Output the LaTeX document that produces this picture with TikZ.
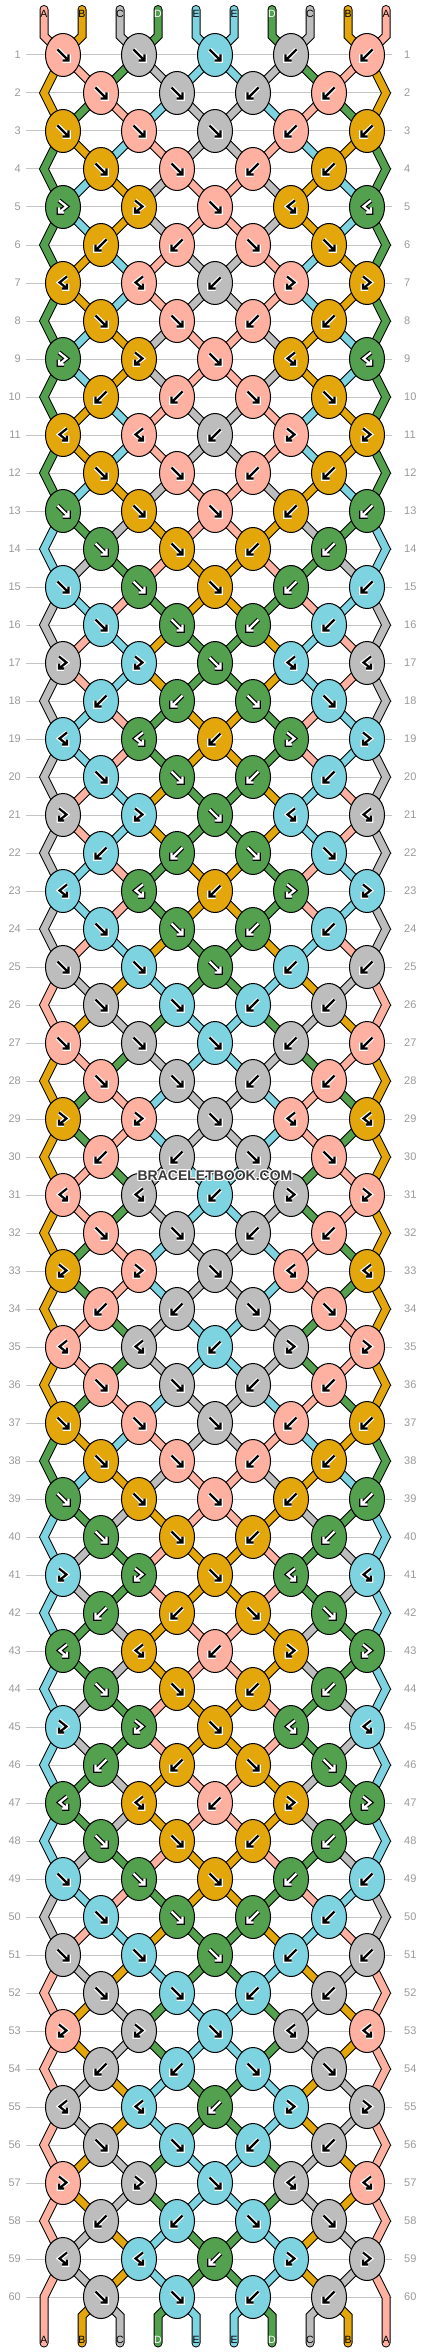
\documentclass[tikz,border=0pt]{standalone}
\usepackage{fontspec}
\setmainfont{Liberation Sans}
\usetikzlibrary{shapes.geometric}
\pgfdeclarelayer{rowlayer}
\pgfdeclarelayer{strlayer}
\pgfsetlayers{rowlayer,strlayer,main}
\definecolor{strA}{HTML}{FFB1A1}
\definecolor{strB}{HTML}{E3A60B}
\definecolor{strC}{HTML}{BDBDBD}
\definecolor{strD}{HTML}{53A04F}
\definecolor{strE}{HTML}{7DD4E0}
\definecolor{rowline}{HTML}{C4C4C4}
\definecolor{rowtext}{HTML}{9A9A9A}
\definecolor{wmtext}{HTML}{3A3A3A}
\tikzset{
 knot/.style={ellipse, draw=black, line width=1pt, minimum width=35pt, minimum height=43pt, inner sep=0pt},
 strb/.style={line width=9pt, draw=black, line cap=round, line join=miter},
 stri/.style={line width=7pt, line cap=round, line join=miter},
 rowln/.style={draw=rowline, line width=1pt},
 rowlbl/.style={text=rowtext, font=\fontsize{11}{13}\selectfont, inner sep=0pt},
 strlbl/.style={font=\fontsize{10.5}{12}\selectfont, inner sep=0pt},
 glyphsty/.style={line cap=butt, line join=miter, miter limit=10},
 wmark/.style={font=\fontsize{14}{16}\selectfont\bfseries, inner sep=0pt},
}
\newcommand\conn[2]{\draw[strb] #2; \draw[stri, draw=str#1] #2;}
\newcommand\glyphF[1]{\draw[glyphsty,#1] (-5.5,-5.5) -- (5.5,5.5) (5.5,-0.5) -- (5.5,5.5) -- (-0.5,5.5);}
\newcommand\glyphB[1]{\draw[glyphsty,#1] (5.5,-5.5) -- (-5.5,5.5) (-5.5,-0.5) -- (-5.5,5.5) -- (0.5,5.5);}
\newcommand\glyphP[1]{\draw[glyphsty,#1] (-4,-6.5) -- (3.5,-0.5) -- (-4,5.5) (-4,0.5) -- (-4,5.5) -- (1,5.5);}
\newcommand\glyphQ[1]{\draw[glyphsty,#1] (4,-6.5) -- (-3.5,-0.5) -- (4,5.5) (4,0.5) -- (4,5.5) -- (-1,5.5);}
\newcommand\glyph[4]{%
  \if D#4\relax \def\gfg{white}\def\gbg{black}\else \def\gfg{black}\def\gbg{white}\fi
  \begin{scope}[shift={(#2,#3)}]
    \csname glyph#1\endcsname{line width=4.6pt,draw=\gbg}
    \csname glyph#1\endcsname{line width=2.2pt,draw=\gfg}
  \end{scope}}
\newcommand\setnm[3]{%
  \pgfmathtruncatemacro\tmpodd{mod(#2,2)}%
  \ifnum\tmpodd=1
    \pgfmathtruncatemacro\tmpj{2*floor(#3/2)}%
  \else
    \ifnum#3=0 \def\tmpj{0}\else\ifnum#3=9 \def\tmpj{9}\else
      \pgfmathtruncatemacro\tmpj{2*floor((#3-1)/2)+1}\fi\fi
  \fi
  \edef#1{n-#2-\tmpj}}
\newcommand\defrow[2]{\expandafter\def\csname R#1\endcsname{#2}}
\defrow{1}{F,F,F,B,B}
\defrow{2}{F,F,B,B}
\defrow{3}{F,F,F,B,B}
\defrow{4}{F,F,B,B}
\defrow{5}{P,P,F,Q,Q}
\defrow{6}{B,B,F,F}
\defrow{7}{Q,Q,B,P,P}
\defrow{8}{F,F,B,B}
\defrow{9}{P,P,F,Q,Q}
\defrow{10}{B,B,F,F}
\defrow{11}{Q,Q,B,P,P}
\defrow{12}{F,F,B,B}
\defrow{13}{F,F,F,B,B}
\defrow{14}{F,F,B,B}
\defrow{15}{F,F,F,B,B}
\defrow{16}{F,F,B,B}
\defrow{17}{P,P,F,Q,Q}
\defrow{18}{B,B,F,F}
\defrow{19}{Q,Q,B,P,P}
\defrow{20}{F,F,B,B}
\defrow{21}{P,P,F,Q,Q}
\defrow{22}{B,B,F,F}
\defrow{23}{Q,Q,B,P,P}
\defrow{24}{F,F,B,B}
\defrow{25}{F,F,F,B,B}
\defrow{26}{F,F,B,B}
\defrow{27}{F,F,F,B,B}
\defrow{28}{F,F,B,B}
\defrow{29}{P,P,F,Q,Q}
\defrow{30}{B,B,F,F}
\defrow{31}{Q,Q,B,P,P}
\defrow{32}{F,F,B,B}
\defrow{33}{P,P,F,Q,Q}
\defrow{34}{B,B,F,F}
\defrow{35}{Q,Q,B,P,P}
\defrow{36}{F,F,B,B}
\defrow{37}{F,F,F,B,B}
\defrow{38}{F,F,B,B}
\defrow{39}{F,F,F,B,B}
\defrow{40}{F,F,B,B}
\defrow{41}{P,P,F,Q,Q}
\defrow{42}{B,B,F,F}
\defrow{43}{Q,Q,B,P,P}
\defrow{44}{F,F,B,B}
\defrow{45}{P,P,F,Q,Q}
\defrow{46}{B,B,F,F}
\defrow{47}{Q,Q,B,P,P}
\defrow{48}{F,F,B,B}
\defrow{49}{F,F,F,B,B}
\defrow{50}{F,F,B,B}
\defrow{51}{F,F,F,B,B}
\defrow{52}{F,F,B,B}
\defrow{53}{P,P,F,Q,Q}
\defrow{54}{B,B,F,F}
\defrow{55}{Q,Q,B,P,P}
\defrow{56}{F,F,B,B}
\defrow{57}{P,P,F,Q,Q}
\defrow{58}{B,B,F,F}
\defrow{59}{Q,Q,B,P,P}
\defrow{60}{F,F,B,B}
\begin{document}
\begin{tikzpicture}[x=1pt,y=-1pt]
\useasboundingbox (0,0) rectangle (430,2352);
\begin{pgfonlayer}{rowlayer}
\fill[white] (0,0) rectangle (430,2352);
\end{pgfonlayer}
% initial strings and labels
\foreach \pp/\cc in {0/A,1/B,2/C,3/D,4/E,5/E,6/D,7/C,8/B,9/A}{
  \expandafter\xdef\csname S-0-\pp\endcsname{\cc}
  \pgfmathsetmacro\xp{44+38*\pp}
  \if D\cc\relax\def\lc{white}\else\def\lc{black}\fi
  \node[strlbl, text=\lc] (tl-\pp) at (\xp,13.5) {\cc};
  \node[strlbl, text=\lc] (bl-\pp) at (\xp,2340) {\cc};
}
% pass 1: knots
\foreach \rr in {1,...,60}{
  \pgfmathtruncatemacro\rp{\rr-1}
  \pgfmathtruncatemacro\odd{mod(\rr,2)}
  \pgfmathsetmacro\y{55+38*(\rr-1)}
  \begin{pgfonlayer}{rowlayer}
  \draw[rowln] (26,\y) -- (392,\y);
  \end{pgfonlayer}
  \node[rowlbl, anchor=east] (ll-\rr) at (21,\y) {\rr};
  \node[rowlbl, anchor=west] (lr-\rr) at (404,\y) {\rr};
  \edef\ks{\csname R\rr\endcsname}
  \foreach \kt [count=\kk from 0] in \ks {
    \pgfmathtruncatemacro\pp{\odd==1 ? 2*\kk : 2*\kk+1}
    \pgfmathtruncatemacro\qq{\pp+1}
    \edef\cL{\csname S-\rp-\pp\endcsname}
    \edef\cR{\csname S-\rp-\qq\endcsname}
    \if\kt F\edef\kc{\cL}\edef\outL{\cR}\edef\outR{\cL}\fi
    \if\kt B\edef\kc{\cR}\edef\outL{\cR}\edef\outR{\cL}\fi
    \if\kt P\edef\kc{\cL}\edef\outL{\cL}\edef\outR{\cR}\fi
    \if\kt Q\edef\kc{\cR}\edef\outL{\cL}\edef\outR{\cR}\fi
    \expandafter\xdef\csname S-\rr-\pp\endcsname{\outL}
    \expandafter\xdef\csname S-\rr-\qq\endcsname{\outR}
    \pgfmathsetmacro\x{63+38*\pp}
    \node[knot, fill=str\kc] (n-\rr-\pp) at (\x,\y) {};
    \glyph{\kt}{\x}{\y}{\kc}
  }
  \ifnum\odd=0
    \expandafter\xdef\csname S-\rr-0\endcsname{\csname S-\rp-0\endcsname}
    \expandafter\xdef\csname S-\rr-9\endcsname{\csname S-\rp-9\endcsname}
    \coordinate (n-\rr-0) at (44,\y);
    \coordinate (n-\rr-9) at (386,\y);
  \fi
}
% pass 2: strings
\begin{pgfonlayer}{strlayer}
\foreach \pp in {0,...,9}{
  \pgfmathsetmacro\xp{44+38*\pp}
  \coordinate (top-\pp) at (\xp,9.5);
  \coordinate (topb-\pp) at (\xp,36);
  \coordinate (bot-\pp) at (\xp,2343);
  \coordinate (botb-\pp) at (\xp,2316);
  \pgfmathtruncatemacro\isedge{(\pp==0)||(\pp==9)}
  \setnm\na{1}{\pp}
  \edef\sc{\csname S-0-\pp\endcsname}
  \conn{\sc}{(top-\pp) -- (topb-\pp) -- (\na.center)}
  \foreach \rr in {1,...,59}{
    \pgfmathtruncatemacro\rn{\rr+1}
    \pgfmathtruncatemacro\rnn{\rr+2}
    \pgfmathtruncatemacro\rodd{mod(\rr,2)}
    \edef\sc{\csname S-\rr-\pp\endcsname}
    \setnm\na{\rr}{\pp}\setnm\nb{\rn}{\pp}
    \ifnum\isedge=1
      \ifnum\rodd=1
        \ifnum\rnn=61
          \conn{\sc}{(\na.center) -- (\nb.center) -- (bot-\pp)}
        \else
          \setnm\nc{\rnn}{\pp}
          \conn{\sc}{(\na.center) -- (\nb.center) -- (\nc.center)}
        \fi
      \fi
    \else
      \conn{\sc}{(\na.center) -- (\nb.center)}
    \fi
  }
  \ifnum\isedge=0
    \setnm\na{60}{\pp}
    \edef\sc{\csname S-60-\pp\endcsname}
    \conn{\sc}{(\na.center) -- (botb-\pp) -- (bot-\pp)}
  \fi
}
\end{pgfonlayer}
% watermark
\foreach \dx/\dy [count=\i] in {-1/0,1/0,0/-1,0/1,-1/-1,1/1,-1/1,1/-1}{
  \node[wmark, text=white] (wmh-\i) at (215+\dx,1176+\dy) {BRACELETBOOK.COM};
}
\node[wmark, text=wmtext] (wm) at (215,1176) {BRACELETBOOK.COM};
\end{tikzpicture}
\end{document}
